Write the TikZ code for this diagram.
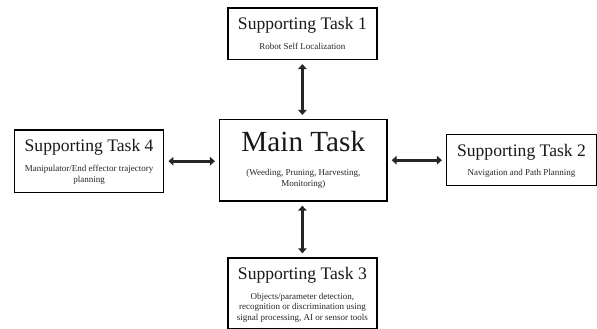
\documentclass[tikz,border=0pt]{standalone}
\usepackage{fontspec}
\setmainfont{Liberation Serif}
\usetikzlibrary{arrows.meta}
\tikzset{
  taskbox/.style={draw=black, line width=1.5pt, inner sep=0pt, fill=white},
  titletext/.style={font=\fontsize{17.6}{20}\selectfont, anchor=base, inner sep=0pt, text=black!90},
  maintext/.style={font=\fontsize{29.2}{33}\selectfont, anchor=base, inner sep=0pt, text=black!90},
  subtext/.style={font=\fontsize{9}{11}\selectfont, anchor=base, inner sep=0pt, text=black!85},
  link/.style={line width=3.2pt, draw=black!85, {Triangle[length=5pt,width=8.5pt]}-{Triangle[length=5pt,width=8.5pt]}, shorten <=4pt, shorten >=4pt}
}
\begin{document}
\begin{tikzpicture}[x=1pt,y=-1pt]
\useasboundingbox (0,0) rectangle (597,329);
% boxes
\node[taskbox, minimum width=149.3pt, minimum height=51.3pt] (b1) at (302.4,33.7) {};
\node[taskbox, minimum width=167.2pt, minimum height=81.3pt] (main) at (303.3,160.3) {};
\node[taskbox, minimum width=149.2pt, minimum height=62.3pt] (b4) at (89.1,161.2) {};
\node[taskbox, minimum width=149.6pt, minimum height=51pt] (b2) at (521.5,160.2) {};
\node[taskbox, minimum width=149.3pt, minimum height=70.3pt] (b3) at (302.4,293.2) {};
% texts
\node[titletext] (t1) at (302.4,29.3) {Supporting Task 1};
\node[subtext] (s1) at (302.4,49) {Robot Self Localization};
\node[maintext] (tm) at (303.3,151.7) {Main Task};
\node[subtext] (sm1) at (303.3,175.7) {(Weeding, Pruning, Harvesting,};
\node[subtext] (sm2) at (303.3,186.7) {Monitoring)};
\node[titletext] (t4) at (89.1,151.7) {Supporting Task 4};
\node[subtext] (s41) at (89.1,171.5) {Manipulator/End effector trajectory};
\node[subtext] (s42) at (89.1,182.3) {planning};
\node[titletext] (t2) at (521.5,156) {Supporting Task 2};
\node[subtext] (s2) at (521.5,175.7) {Navigation and Path Planning};
\node[titletext] (t3) at (302.4,279.3) {Supporting Task 3};
\node[subtext] (s31) at (302.4,299) {Objects/parameter detection,};
\node[subtext] (s32) at (302.4,309.8) {recognition or discrimination using};
\node[subtext] (s33) at (302.4,320.8) {signal processing, AI or sensor tools};
% connectors
\draw[link] (b1.south) -- (b1.south |- main.north);
\draw[link] (b3.north) -- (b3.north |- main.south);
\draw[link] (b4.east) -- (b4.east -| main.west);
\draw[link] (b2.west) -- (b2.west -| main.east);
\end{tikzpicture}
\end{document}
